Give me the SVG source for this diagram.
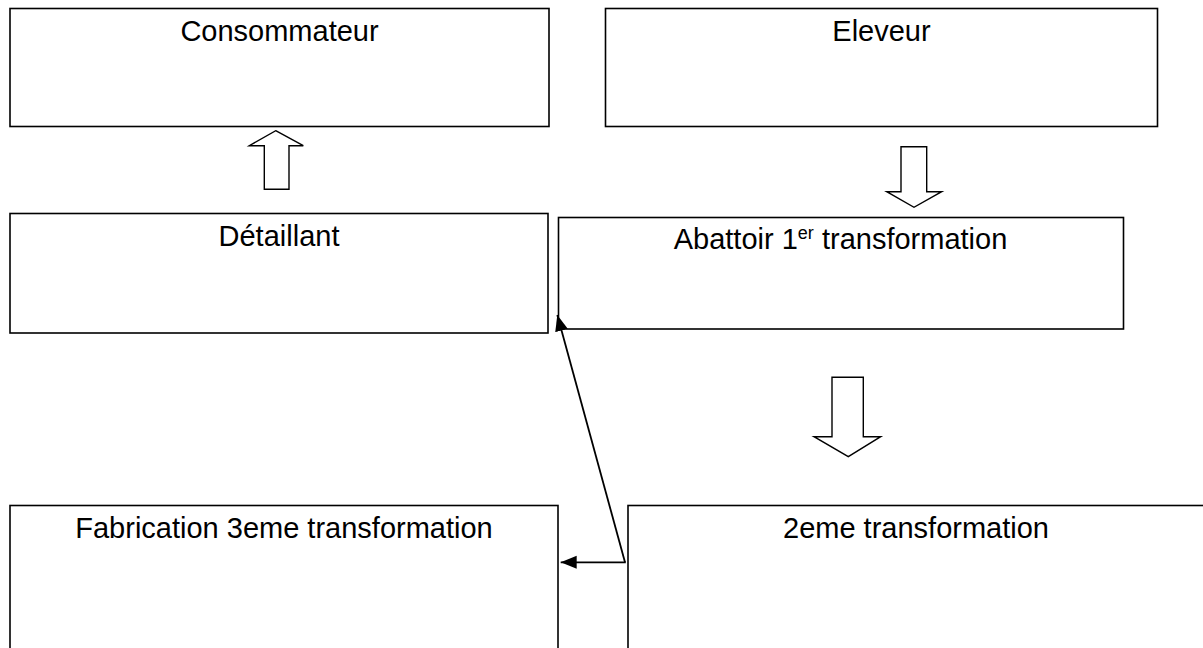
<svg xmlns="http://www.w3.org/2000/svg" width="1203" height="648" viewBox="0 0 1203 648">
  <style>
    .box { fill: #ffffff; stroke: #000000; stroke-width: 1.6; }
    .lbl { font-family: "Liberation Sans", Arial, sans-serif; font-size: 29px; fill: #000000; text-anchor: middle; }
    .blk { fill: #ffffff; stroke: #000000; stroke-width: 1.4; stroke-linejoin: miter; }
    .con { fill: none; stroke: #000000; stroke-width: 1.8; }
  </style>
  <defs>
    <marker id="ah" markerUnits="userSpaceOnUse" markerWidth="18" markerHeight="14" refX="16" refY="6.5" orient="auto">
      <path d="M0,0 L16,6.5 L0,13 z" fill="#000000"/>
    </marker>
  </defs>
  <rect x="0" y="0" width="1203" height="648" fill="#ffffff"/>

  <g id="consommateur">
    <rect class="box" x="10" y="8.5" width="539" height="118"/>
    <text class="lbl" x="279.5" y="40.5">Consommateur</text>
  </g>
  <g id="eleveur">
    <rect class="box" x="605.5" y="8.5" width="552" height="118"/>
    <text class="lbl" x="881.5" y="40.5">Eleveur</text>
  </g>
  <g id="detaillant">
    <rect class="box" x="10" y="213.5" width="538" height="119.5"/>
    <text class="lbl" x="279" y="246">Détaillant</text>
  </g>
  <g id="abattoir">
    <rect class="box" x="558.5" y="217.5" width="565" height="111.5"/>
    <text class="lbl" x="840.5" y="249">Abattoir 1<tspan font-size="18" dy="-10">er</tspan><tspan dy="10"> transformation</tspan></text>
  </g>
  <g id="fabrication">
    <rect class="box" x="10" y="505.5" width="548" height="150"/>
    <text class="lbl" x="284" y="538">Fabrication 3eme transformation</text>
  </g>
  <g id="deuxieme">
    <rect class="box" x="628" y="505.5" width="600" height="150"/>
    <text class="lbl" x="916" y="538">2eme transformation</text>
  </g>

  <g id="block-arrows">
    <polygon class="blk" points="275.7,130.7 303.3,145.7 289,145.7 289,189.3 264.3,189.3 264.3,145.7 249.3,145.7"/>
    <polygon class="blk" points="901,146.7 926.7,146.7 926.7,191.7 941.7,191.7 914,207.3 886.7,191.7 901,191.7"/>
    <polygon class="blk" points="832,377.3 863.3,377.3 863.3,436.7 880.7,436.7 848.3,456.7 814,436.7 832,436.7"/>
  </g>

  <g id="connectors">
    <line class="con" x1="625" y1="562.3" x2="557.3" y2="315" marker-end="url(#ah)"/>
    <line class="con" x1="625.8" y1="562.3" x2="560.7" y2="562.3" marker-end="url(#ah)"/>
  </g>
</svg>
